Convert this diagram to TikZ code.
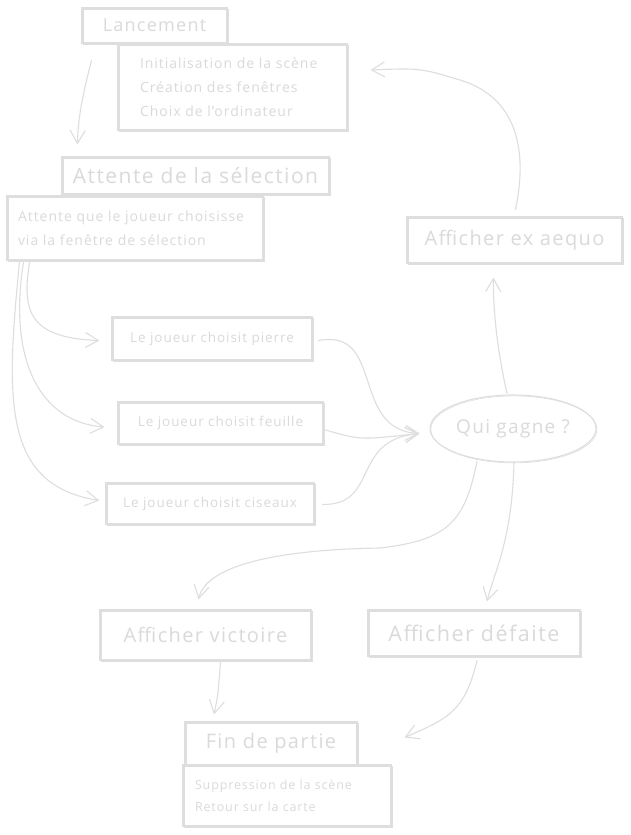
\documentclass[tikz,border=0pt]{standalone}
\usepackage{fontspec}
\setmainfont{Open Sans}[LetterSpace=7]
\usetikzlibrary{arrows.meta,shapes.geometric}
\definecolor{skc}{RGB}{222,222,222}
\definecolor{skt}{RGB}{218,218,218}
\begin{document}
\begin{tikzpicture}[x=1pt,y=-1pt,
  box/.style={draw=skc, line width=1.1pt, text=skt, inner sep=0pt,
    postaction={draw=skc, line width=0.6pt, transform canvas={shift={(0.9pt,-0.9pt)}}}},
  arr/.style={draw=skc, line width=1.1pt, line cap=round,
    -{Straight Barb[length=13pt,width=15pt,line width=1.1pt]}},
  big/.style={font=\fontsize{20}{24}\selectfont},
  small/.style={font=\fontsize{13.5}{24}\selectfont}]
\useasboundingbox (0,0) rectangle (630,835);
\fill[white] (0,0) rectangle (630,835);

% boxes
\node[box, minimum width=145pt, minimum height=35pt, font=\fontsize{18}{22}\selectfont] (lan) at (154.5,25.5) {Lancement};
\node[box, minimum width=229pt, minimum height=86pt, text width=205pt, align=left,
      font=\fontsize{14}{24}\selectfont] (init) at (232.5,87)
  {\hspace*{10pt}Initialisation de la scène\\\hspace*{10pt}Création des fenêtres\\\hspace*{10pt}Choix de l'ordinateur};
\node[box, minimum width=267pt, minimum height=37pt, font=\fontsize{21}{24}\selectfont] (att) at (195.5,175.5) {Attente de la sélection};
\node[box, minimum width=256pt, minimum height=64pt, text width=234pt, align=left,
      font=\fontsize{14}{24}\selectfont] (attd) at (135,228)
  {Attente que le joueur choisisse\\via la fenêtre de sélection};
\node[box, minimum width=200pt, minimum height=43pt, small] (pie) at (212,338.5) {Le joueur choisit pierre};
\node[box, minimum width=205pt, minimum height=42pt, small] (feu) at (220.5,423) {Le joueur choisit feuille};
\node[box, minimum width=208pt, minimum height=41pt, small] (cis) at (210,503.5) {Le joueur choisit ciseaux};
\node[box, ellipse, minimum width=166pt, minimum height=67pt, font=\fontsize{19}{22}\selectfont] (qui) at (513,428.5) {Qui gagne ?};
\node[box, minimum width=215pt, minimum height=46pt, font=\fontsize{20}{24}\selectfont] (exa) at (514.5,240) {Afficher ex aequo};
\node[box, minimum width=211pt, minimum height=50pt, big] (vic) at (205.5,635) {Afficher victoire};
\node[box, minimum width=212pt, minimum height=46pt, font=\fontsize{21.5}{24}\selectfont] (def) at (474,633) {Afficher défaite};
\node[box, minimum width=172pt, minimum height=43pt, big] (fin) at (271,743.5) {Fin de partie};
\node[box, minimum width=208pt, minimum height=61pt, text width=184pt, align=left,
      font=\fontsize{12.5}{22}\selectfont] (find) at (287,795.5)
  {Suppression de la scène\\Retour sur la carte};

% connector ends
\coordinate (l1) at ([shift={(10,17)}]lan.south west);
\coordinate (l2) at ([shift={(16,-12)}]att.north west);
\coordinate (s1) at ([shift={(23,2)}]attd.south west);
\coordinate (s2) at ([shift={(17,2)}]attd.south west);
\coordinate (s3) at ([shift={(13,2)}]attd.south west);
\coordinate (t1) at ([shift={(-12,2)}]pie.west);
\coordinate (t2) at ([shift={(-13,4)}]feu.west);
\coordinate (t3) at ([shift={(-6,-3)}]cis.west);
\coordinate (qin) at ([shift={(-10,5)}]qui.west);
\coordinate (e1) at ([shift={(6,2)}]pie.east);
\coordinate (e2) at ([shift={(2,7)}]feu.east);
\coordinate (e3) at ([shift={(8,1)}]cis.east);
\coordinate (x1) at ([shift={(-6,-1)}]qui.north);
\coordinate (x2) at ([shift={(-21,14)}]exa.south);
\coordinate (y1) at ([shift={(1,-7)}]exa.north);
\coordinate (y2) at ([shift={(23,-17)}]init.east);
\coordinate (v1) at ([shift={(-36,-1)}]qui.south);
\coordinate (v2) at ([shift={(-7,-10)}]vic.north);
\coordinate (d1) at ([shift={(1,0)}]qui.south);
\coordinate (d2) at ([shift={(13,-8)}]def.north);
\coordinate (f1) at ([shift={(15,2)}]vic.south);
\coordinate (f2) at ([shift={(-57,-7)}]fin.north);
\coordinate (g1) at ([shift={(3,4)}]def.south);
\coordinate (g2) at ([shift={(47,-6)}]fin.east);

% connectors
\draw[arr] (l1) .. controls (84,90) and (78,115) .. (l2);
\draw[arr] (s1) .. controls (22,310) and (28,338) .. (t1);
\draw[arr] (s2) .. controls (8,360) and (40,422) .. (t2);
\draw[arr] (s3) .. controls (6,400) and (2,485) .. (t3);
\draw[arr] (e1) .. controls (385,328) and (350,430) .. (qin);
\draw[arr] (e2) .. controls (360,440) .. (qin);
\draw[arr] (e3) .. controls (380,505) and (350,440) .. (qin);
\draw[arr] (x1) .. controls (495,340) and (493,300) .. (x2);
\draw[arr] (y1) .. controls (530,140) and (510,95) .. (460,80) .. controls (420,68) .. (y2);
\draw[arr] (v1) .. controls (465,520) and (450,540) .. (380,548) .. controls (260,550) and (205,570) .. (v2);
\draw[arr] (d1) .. controls (512,540) and (495,570) .. (d2);
\draw[arr] (f1) .. controls (218,695) .. (f2);
\draw[arr] (g1) .. controls (465,710) and (450,718) .. (g2);
\end{tikzpicture}
\end{document}
